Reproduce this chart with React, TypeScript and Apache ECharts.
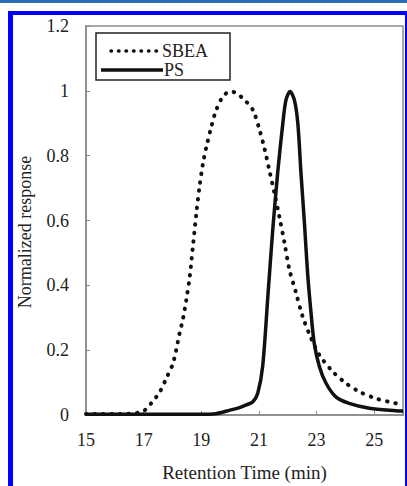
import React, { useEffect, useRef } from "react";
import * as echarts from "echarts";

const sbeaTime = [15, 15.5, 16, 16.5, 16.8, 17.04, 17.27, 17.56, 17.79, 18.02, 18.25, 18.37, 18.48, 18.6, 18.71, 18.83, 18.94, 19.06, 19.18, 19.35, 19.52, 19.75, 20.0, 20.21, 20.5, 20.79, 21.02, 21.2, 21.35, 21.54, 21.71, 21.89, 22.06, 22.29, 22.52, 22.81, 23.1, 23.56, 24.02, 24.48, 25.06, 25.75, 26];
const sbeaValue = [0.003, 0.003, 0.003, 0.004, 0.007, 0.015, 0.037, 0.071, 0.114, 0.16, 0.253, 0.299, 0.355, 0.427, 0.52, 0.623, 0.705, 0.777, 0.828, 0.89, 0.941, 0.982, 0.998, 0.993, 0.972, 0.941, 0.88, 0.82, 0.76, 0.684, 0.612, 0.53, 0.448, 0.376, 0.303, 0.237, 0.185, 0.134, 0.098, 0.072, 0.051, 0.036, 0.032];

const psTime = [15, 16, 17, 18, 19, 19.5, 20.0, 20.3, 20.56, 20.79, 20.96, 21.13, 21.31, 21.48, 21.65, 21.83, 21.94, 22.08, 22.23, 22.35, 22.46, 22.58, 22.69, 22.81, 22.92, 23.1, 23.33, 23.67, 24.13, 24.83, 25.75, 26];
const psValue = [0.002, 0.002, 0.002, 0.002, 0.002, 0.004, 0.015, 0.022, 0.031, 0.041, 0.067, 0.15, 0.365, 0.571, 0.746, 0.9, 0.972, 0.998, 0.972, 0.9, 0.746, 0.592, 0.437, 0.314, 0.221, 0.149, 0.098, 0.056, 0.036, 0.021, 0.013, 0.012];

const xTicks = [15, 17, 19, 21, 23, 25];
const seriesNames = ["SBEA", "PS"];
const xTitle = "Retention Time (min)";
const yTitle = "Normalized response";

const FONT = "'Liberation Serif', 'Times New Roman', serif";
const DOTS = [0.5, 8];

export default function App() {
  const ref = useRef<HTMLDivElement>(null);
  useEffect(() => {
    document.body.style.margin = "0";
    const chart = echarts.init(ref.current!, null, { renderer: "svg" });
    const zip = (t: number[], v: number[]) => t.map((x, i) => [x, v[i]]);
    chart.setOption({
      animation: false,
      backgroundColor: "#fff",
      grid: {
        left: 86,
        top: 26,
        right: 4,
        bottom: 71,
        show: true,
        borderColor: "#8a8a8a",
        borderWidth: 1.5,
        containLabel: false,
        outerBoundsMode: "none",
      },
      graphic: [
        { type: "rect", shape: { x: 0, y: 0, width: 407, height: 3 }, style: { fill: "#2a6db5" }, z: 100 },
        { type: "rect", shape: { x: 8, y: 11, width: 399, height: 4 }, style: { fill: "#0000ff" }, z: 100 },
        { type: "rect", shape: { x: 8, y: 11, width: 5, height: 475 }, style: { fill: "#0000ff" }, z: 100 },
        { type: "rect", shape: { x: 405, y: 11, width: 2, height: 475 }, style: { fill: "#0000ff" }, z: 100 },
        {
          type: "text",
          x: 25,
          y: 232,
          rotation: Math.PI / 2,
          style: { text: yTitle, fontFamily: FONT, fontSize: 18, fill: "#222", align: "center", verticalAlign: "middle" },
          z: 50,
        },
        {
          type: "rect",
          shape: { x: 96, y: 33, width: 134, height: 47 },
          style: { fill: "#fff", stroke: "#222", lineWidth: 1.5 },
          z: 50,
        },
        {
          type: "line",
          shape: { x1: 111, y1: 51, x2: 158, y2: 51 },
          style: { stroke: "#111", lineWidth: 3.5, lineDash: [0.5, 7], lineCap: "round" },
          z: 51,
        },
        {
          type: "text",
          x: 162,
          y: 51,
          style: { text: seriesNames[0], fontFamily: FONT, fontSize: 18, fill: "#222", verticalAlign: "middle" },
          z: 51,
        },
        {
          type: "line",
          shape: { x1: 101, y1: 70, x2: 163, y2: 70 },
          style: { stroke: "#111", lineWidth: 3.5 },
          z: 51,
        },
        {
          type: "text",
          x: 164,
          y: 70,
          style: { text: seriesNames[1], fontFamily: FONT, fontSize: 18, fill: "#222", verticalAlign: "middle" },
          z: 51,
        },
      ],
      xAxis: {
        type: "value",
        min: 15,
        max: 26,
        interval: 2,
        name: xTitle,
        nameLocation: "middle",
        nameGap: 48,
        nameTextStyle: { fontFamily: FONT, fontSize: 19, color: "#222" },
        axisLine: { show: true, lineStyle: { color: "#8a8a8a", width: 1.5 } },
        axisTick: { show: true, inside: true, length: 4, lineStyle: { color: "#8a8a8a" } },
        axisLabel: {
          fontFamily: FONT,
          fontSize: 18,
          color: "#222",
          margin: 16,
          formatter: (v: number) => (xTicks.includes(v) ? String(v) : ""),
        },
        splitLine: { show: false },
      },
      yAxis: {
        type: "value",
        min: 0,
        max: 1.2,
        interval: 0.2,
        axisLine: { show: true, lineStyle: { color: "#8a8a8a", width: 1.5 } },
        axisTick: { show: true, inside: true, length: 4, lineStyle: { color: "#8a8a8a" } },
        axisLabel: { fontFamily: FONT, fontSize: 18, color: "#222", margin: 17 },
        splitLine: { show: false },
      },
      series: [
        {
          name: seriesNames[0],
          type: "line",
          data: zip(sbeaTime, sbeaValue),
          smooth: 0.3,
          showSymbol: false,
          symbol: "none",
          lineStyle: { color: "#111", width: 4, type: DOTS, cap: "round" },
          z: 3,
        },
        {
          name: seriesNames[1],
          type: "line",
          data: zip(psTime, psValue),
          smooth: 0.3,
          showSymbol: false,
          symbol: "none",
          lineStyle: { color: "#111", width: 3.5 },
          z: 4,
        },
      ],
    });
    return () => chart.dispose();
  }, []);
  return <div ref={ref} style={{ position: "absolute", left: 0, top: 0, width: 407, height: 486 }} />;
}
